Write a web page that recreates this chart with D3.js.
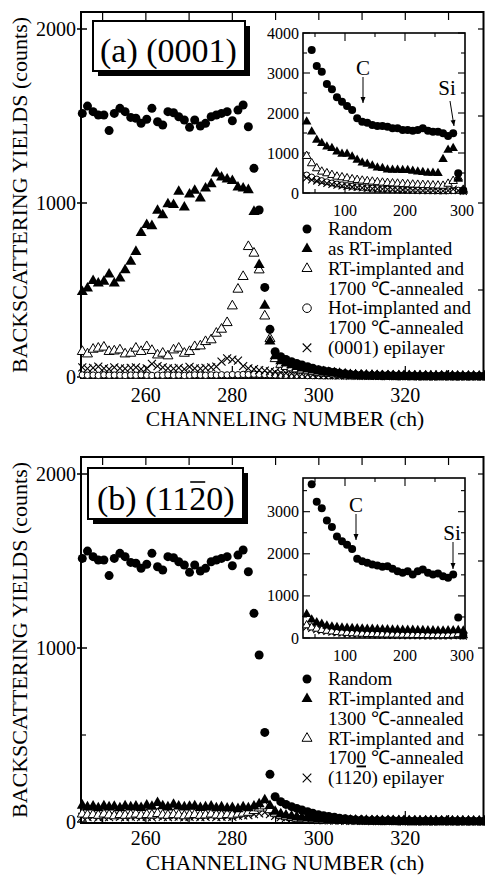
<!DOCTYPE html>
<html><head><meta charset="utf-8">
<script src="https://cdn.jsdelivr.net/npm/d3@7"></script>
<style>
body{margin:0;background:#fff}
svg{display:block}
text{font-family:"Liberation Serif","Times New Roman",Times,serif;fill:#000}
</style>
</head><body>
<svg id="c" width="485" height="875"></svg>
<script>
// ---------- DATA ----------
const channels = [245.3,246.5,247.8,249.0,250.3,251.5,252.7,254.0,255.2,256.5,257.7,258.9,260.2,261.4,262.7,263.9,265.1,266.4,267.6,268.9,270.1,271.3,272.6,273.8,275.1,276.3,277.5,278.8,280.0,281.3,282.5,283.7,285.0,286.2,287.5,288.7,289.9,291.2,292.4,293.7,294.9,296.1,297.4,298.6,299.9,301.1,302.3,303.6,304.8,306.1,307.3,308.5,309.8,311.0,312.3,313.5,314.7,316.0,317.2,318.5,319.7,320.9,322.2,323.4,324.7,325.9,327.1,328.4,329.6,330.9,332.1,333.3,334.6,335.8,337.1,338.3];

const randomYield = [1515,1557,1525,1506,1506,1416,1515,1544,1525,1492,1487,1458,1481,1544,1467,1448,1525,1519,1496,1477,1435,1477,1442,1458,1496,1506,1515,1525,1473,1534,1563,1438,1199,960,515,274,145,117,101,88,78,69,59,50,42,36,32,28,22,18,15,12,10,9,8,8,7,8,7,6,7,6,6,5,6,5,5,6,5,5,4,5,4,5,4,4];

// panel (a) (0001)
const asRTImplanted = [490,510,553,538,548,590,538,567,615,663,720,829,874,868,956,931,994,989,1065,975,1050,1071,1027,1084,1109,1171,1147,1136,1128,1090,1084,1075,950,644,410,205,120,92,78,68,58,50,44,38,33,29,25,22,19,16,13,11,10,9,8,8,7,7,6,7,6,6,5,6,5,5,5,4,5,4,4,4,4,4,3,4];
const rt1700A = [146,132,159,165,171,146,149,155,132,136,165,146,174,152,126,136,121,155,165,136,146,174,178,203,213,251,274,312,408,504,577,749,711,615,350,220,105,72,60,52,46,40,35,30,26,23,20,17,15,13,11,10,9,8,8,7,7,6,6,6,5,5,5,5,4,4,4,4,4,4,3,3,3,3,3,3];
const hot1700A = [12,10,11,9,12,10,11,10,9,11,10,12,10,9,11,10,12,10,11,9,10,12,11,10,12,11,13,12,14,13,15,14,16,15,14,13,12,11,10,10,9,9,8,8,8,7,7,7,7,6,6,6,6,6,6,5,5,5,5,5,5,5,5,5,4,4,4,4,4,4,4,4,4,4,4,4];
const epi0001 = [55,48,52,60,50,45,55,50,48,52,55,45,50,75,62,55,50,48,52,45,58,50,48,52,55,60,88,107,100,94,63,50,45,40,36,32,28,25,22,20,18,16,14,12,11,10,9,9,8,8,7,7,7,6,6,6,6,5,5,5,5,5,5,4,4,4,4,4,4,4,4,4,4,4,4,4];

// panel (b) (11-20)
const rt1300B = [95,85,90,80,92,85,88,80,92,85,90,82,95,88,110,92,85,100,90,85,88,92,82,85,90,80,85,78,82,75,85,80,90,103,126,93,60,45,38,33,29,25,22,19,17,15,13,12,11,10,9,9,8,8,7,7,7,6,6,6,6,5,5,5,5,5,5,4,4,4,4,4,4,4,4,4];
const rt1700B = [45,40,42,38,45,40,35,42,38,40,45,38,42,40,48,40,38,42,40,35,40,42,38,40,45,40,38,42,40,45,50,55,65,80,92,70,50,38,30,25,21,18,16,14,12,11,10,9,8,8,7,7,6,6,6,6,5,5,5,5,5,4,4,4,4,4,4,4,4,4,4,4,4,3,3,3];
const epi1120 = [30,28,32,25,30,28,35,30,26,30,32,28,30,26,35,30,28,32,30,26,30,32,28,30,35,28,30,32,30,35,38,40,45,50,55,45,35,28,24,20,18,16,14,12,11,10,9,8,8,7,7,6,6,6,5,5,5,5,5,5,4,4,4,4,4,4,4,4,4,4,4,4,3,3,3,3];

// insets (full spectra)
const insetChannels = [36.1,44.5,52.9,61.3,69.8,78.2,86.6,95.0,103.4,111.9,120.3,128.7,137.1,145.5,154.0,162.4,170.8,179.2,187.6,196.1,204.5,212.9,221.3,229.7,238.2,246.6,255.0,263.4,271.8,280.3,288.7,297.1];
const insetRandomA = [null,3575,3175,3033,2725,2593,2393,2283,2175,2075,1868,1783,1758,1700,1675,1675,1658,1617,1617,1575,1575,1558,1575,1617,1558,1533,1533,1492,1425,1492,492,60];
const insetAsRTA = [1783,1533,1325,1242,1158,1117,1033,975,975,908,825,758,725,683,633,617,583,575,575,567,567,550,533,517,500,500,492,842,1075,1117,350,50];
const insetRT1700A = [925,742,617,533,492,450,408,392,367,342,325,308,295,283,270,258,250,240,233,225,218,210,205,200,195,190,185,180,230,300,380,80];
const insetHotA = [450,400,350,310,280,250,225,205,185,170,155,140,130,120,110,100,95,90,85,80,75,70,68,65,62,60,58,55,55,60,70,50];
const insetEpiA = [380,330,300,265,240,215,195,180,165,150,140,128,118,110,102,95,90,85,80,75,70,68,65,62,60,58,55,55,58,95,60,40];
const insetRandomB = [null,3649,3238,3082,2790,2634,2413,2295,2217,2115,1880,1823,1785,1745,1722,1691,1705,1644,1587,1549,1587,1509,1587,1627,1549,1509,1533,1469,1431,1509,488,60];
const insetRT1300B = [566,432,370,330,290,270,255,245,235,230,225,220,215,212,210,205,200,198,195,192,190,188,185,182,180,178,175,175,178,180,185,170];
const insetRT1700B = [300,250,220,190,170,155,140,130,120,112,105,100,95,92,88,85,82,80,78,76,74,72,70,70,68,68,66,66,68,75,90,60];
const insetEpiB = [260,230,200,175,155,140,125,115,105,98,92,86,80,76,72,68,65,62,60,58,56,55,54,53,52,51,50,50,52,55,60,45];

const mainXTicks = [260,280,300,320];
const mainYTicks = [0,1000,2000];
const insetXTicks = [100,200,300];
const insetYTicksA = [0,1000,2000,3000,4000];
const insetYTicksB = [0,1000,2000,3000];

const legendA = [["dot",["Random"]],["tri",["as RT-implanted"]],["otri",["RT-implanted and","1700 ℃-annealed"]],["ocirc",["Hot-implanted and","1700 ℃-annealed"]],["cross",["(0001) epilayer"]]];
const legendB = [["dot",["Random"]],["tri",["RT-implanted and","1300 ℃-annealed"]],["otri",["RT-implanted and","1700 ℃-annealed"]],["cross",["(1120) epilayer"]]];

// ---------- DRAWING ----------
const svg = d3.select("#c");

function symD(type, sc) {
  if (type === "dot") return d3.symbol(d3.symbolCircle, Math.PI * sc.r * sc.r)();
  if (type === "tri") return d3.symbol(d3.symbolTriangle, 0.433 * sc.t * sc.t)();
  if (type === "otri") return d3.symbol(d3.symbolTriangle, 0.433 * sc.ot * sc.ot)();
  if (type === "ocirc") return d3.symbol(d3.symbolCircle, Math.PI * sc.oc * sc.oc)();
  const h = sc.x;
  return `M${-h},${-h}L${h},${h}M${-h},${h}L${h},${-h}`;
}
function styleSym(sel, type) {
  if (type === "dot" || type === "tri") sel.attr("fill", "#000").attr("stroke", "none");
  else if (type === "cross") sel.attr("fill", "none").attr("stroke", "#000").attr("stroke-width", 1.1);
  else sel.attr("fill", "#fff").attr("stroke", "#000").attr("stroke-width", 1);
}
function plotSeries(g, xs, ys, chans, vals, type, sc) {
  const data = chans.map((c, i) => ({ c, v: vals[i] })).filter(d => d.v != null);
  const sel = g.append("g").selectAll("path").data(data).join("path")
    .attr("transform", d => `translate(${xs(d.c)},${ys(d.v)})`)
    .attr("d", symD(type, sc));
  styleSym(sel, type);
}
function line(g, x1, y1, x2, y2, w) {
  g.append("line").attr("x1", x1).attr("y1", y1).attr("x2", x2).attr("y2", y2)
    .attr("stroke", "#000").attr("stroke-width", w || 1.2);
}
function arrow(g, x1, y1, x2, y2) {
  line(g, x1, y1, x2, y2, 1);
  const a = Math.atan2(y2 - y1, x2 - x1), L = 6, W = 2.5;
  const bx = x2 - L * Math.cos(a), by = y2 - L * Math.sin(a);
  const px = -Math.sin(a) * W, py = Math.cos(a) * W;
  g.append("path").attr("d", `M${x2},${y2}L${bx + px},${by + py}L${bx - px},${by - py}Z`).attr("fill", "#000");
}

const mainSc = { r: 4.5, t: 11, ot: 10, oc: 3.2, x: 4 };
const insetSc = { r: 4, t: 9.5, ot: 8.5, oc: 3, x: 3.5 };
const legSc = { r: 4.5, t: 11, ot: 10, oc: 4.3, x: 4.3 };

function drawPanel(p) {
  const g = svg.append("g");
  const y0 = p.y0, top = y0 - 365, bottom = y0 + 1;
  const x = d3.scaleLinear().domain([245, 338.2]).range([81, 484]);
  const y = d3.scaleLinear().domain([0, 2000]).range([y0, y0 - 348]);

  // frame
  g.append("rect").attr("x", 81).attr("y", top).attr("width", 402.5).attr("height", bottom - top)
    .attr("fill", "none").attr("stroke", "#000").attr("stroke-width", 2);

  // y ticks
  d3.range(0, 2001, 500).forEach(v => {
    const yy = y(v);
    if (v % 1000 === 0) line(g, 77, yy, 87, yy, 1.5); else line(g, 81, yy, 86, yy, 1.2);
    line(g, 478, yy, 484, yy, 1.2);
  });
  g.append("g").selectAll("text").data(mainYTicks).join("text")
    .attr("x", 76).attr("y", d => y(d)).attr("dy", "0.35em").attr("text-anchor", "end")
    .attr("font-size", 20).text(d => d);
  // x ticks
  d3.range(250, 338, 10).forEach(c => {
    line(g, x(c), top, x(c), top + 8, 1.2);
    line(g, x(c), bottom, x(c), bottom - (c % 20 === 0 ? 12 : 8), 1.2);
  });
  g.append("g").selectAll("text").data(mainXTicks).join("text")
    .attr("x", d => x(d)).attr("y", bottom + p.tickOff).attr("text-anchor", "middle")
    .attr("font-size", 20).text(d => d);

  // axis titles
  g.append("text").attr("x", 285).attr("y", p.titleY).attr("text-anchor", "middle")
    .attr("font-size", 21.5).text("CHANNELING NUMBER (ch)");
  g.append("text").attr("transform", `translate(27,${y0 - 182}) rotate(-90)`).attr("text-anchor", "middle")
    .attr("font-size", 22).text("BACKSCATTERING YIELDS (counts)");

  // data
  p.series.forEach(s => plotSeries(g, x, y, channels, s.vals, s.type, mainSc));

  // label box
  const b = p.box;
  g.append("rect").attr("x", b.x + 5).attr("y", b.y + 5).attr("width", b.w).attr("height", b.h).attr("fill", "#000");
  g.append("rect").attr("x", b.x).attr("y", b.y).attr("width", b.w).attr("height", b.h)
    .attr("fill", "#fff").attr("stroke", "#000").attr("stroke-width", 2);
  const lt = g.append("text").attr("x", b.tx).attr("y", b.ty).attr("font-size", 34);
  b.parts.forEach(t => lt.append("tspan").text(t));
  if (b.barIndex != null) {
    const node = lt.node();
    const start = node.getSubStringLength(0, b.barIndex);
    const w = node.getSubStringLength(b.barIndex, 1);
    line(g, b.tx + start + 1, b.ty - 28, b.tx + start + w - 1, b.ty - 28, 1.6);
  }

  // inset
  const ig = svg.append("g");
  const ix = d3.scaleLinear().domain([30, 300]).range([303, 465]);
  const iy = d3.scaleLinear().domain([0, p.insetMax]).range([p.iy0, 33 + (p.iy0 - 193)]);
  const iTop = p.iy0 - 160, iBot = p.iy0;
  ig.append("rect").attr("x", 303).attr("y", iTop).attr("width", 162).attr("height", iBot - iTop)
    .attr("fill", "#fff").attr("stroke", "#000").attr("stroke-width", 1.6);
  d3.range(0, p.insetMax + 1, 500).forEach(v => {
    const L = v % 1000 === 0 ? 7 : 4;
    line(ig, 303, iy(v), 303 + L, iy(v), 1.1);
    line(ig, 465, iy(v), 465 - L, iy(v), 1.1);
  });
  d3.range(50, 300, 50).forEach(c => {
    const L = c % 100 === 0 ? 8 : 4;
    line(ig, ix(c), iTop, ix(c), iTop + L, 1.1);
    line(ig, ix(c), iBot, ix(c), iBot - L, 1.1);
  });
  ig.append("g").selectAll("text").data(p.insetYTicks).join("text")
    .attr("x", 299).attr("y", d => iy(d)).attr("dy", "0.35em").attr("text-anchor", "end")
    .attr("font-size", 16).text(d => d);
  ig.append("g").selectAll("text").data(insetXTicks).join("text")
    .attr("x", d => ix(d) - (d === 300 ? 3 : 0)).attr("y", iBot + 23).attr("text-anchor", "middle")
    .attr("font-size", 16).text(d => d);
  p.insetSeries.forEach(s => plotSeries(ig, ix, iy, insetChannels, s.vals, s.type, insetSc));

  // annotations
  const a = p.ann;
  ig.append("text").attr("x", a.cx).attr("y", a.cy).attr("text-anchor", "middle").attr("font-size", 21).text("C");
  arrow(ig, a.cx, a.cy + 2, a.cx, a.cy + 28);
  ig.append("text").attr("x", a.sx).attr("y", a.sy).attr("text-anchor", "middle").attr("font-size", 21).text("Si");
  arrow(ig, a.s1[0], a.s1[1], a.s2[0], a.s2[1]);

  // legend
  const lg = svg.append("g");
  let row = 0;
  p.legend.forEach(([type, lines]) => {
    const yy = p.legY + row * 19.8;
    const sp = lg.append("path").attr("transform", `translate(307,${yy})`).attr("d", symD(type, legSc));
    styleSym(sp, type);
    lines.forEach((t, k) => {
      const tx = lg.append("text").attr("x", 328).attr("y", yy + k * 19.8).attr("dy", "0.33em").attr("font-size", 19);
      if (p.underline && t === "1700 ℃-annealed" && row + k === 4) {
        tx.append("tspan").text("170");
        tx.append("tspan").attr("text-decoration", "underline").text("0");
        tx.append("tspan").text(" ℃-annealed");
      } else tx.text(t);
    });
    row += lines.length;
  });
}

drawPanel({
  y0: 377, titleY: 426, tickOff: 24,
  series: [
    { type: "ocirc", vals: hot1700A },
    { type: "cross", vals: epi0001 },
    { type: "otri", vals: rt1700A },
    { type: "tri", vals: asRTImplanted },
    { type: "dot", vals: randomYield }
  ],
  box: { x: 93, y: 21, w: 152, h: 50, tx: 100, ty: 62, parts: ["(a) (0001)"], barIndex: null },
  insetMax: 4000, iy0: 193, insetYTicks: insetYTicksA,
  insetSeries: [
    { type: "ocirc", vals: insetHotA },
    { type: "cross", vals: insetEpiA },
    { type: "otri", vals: insetRT1700A },
    { type: "tri", vals: insetAsRTA },
    { type: "dot", vals: insetRandomA }
  ],
  ann: { cx: 363, cy: 75, sx: 447, sy: 95, s1: [450, 101], s2: [454, 126] },
  legend: legendA, legY: 229, underline: false
});

drawPanel({
  y0: 822, titleY: 870, tickOff: 22,
  series: [
    { type: "cross", vals: epi1120 },
    { type: "otri", vals: rt1700B },
    { type: "tri", vals: rt1300B },
    { type: "dot", vals: randomYield }
  ],
  box: { x: 88, y: 468, w: 155, h: 51, tx: 97, ty: 510, parts: ["(b) (11", "2", "0)"], barIndex: 7 },
  insetMax: 3800, iy0: 638, insetYTicks: insetYTicksB,
  insetSeries: [
    { type: "cross", vals: insetEpiB },
    { type: "otri", vals: insetRT1700B },
    { type: "tri", vals: insetRT1300B },
    { type: "dot", vals: insetRandomB }
  ],
  ann: { cx: 356, cy: 512, sx: 452, sy: 540, s1: [453, 542], s2: [453, 569] },
  legend: legendB, legY: 679, underline: true
});
</script>
</body></html>
